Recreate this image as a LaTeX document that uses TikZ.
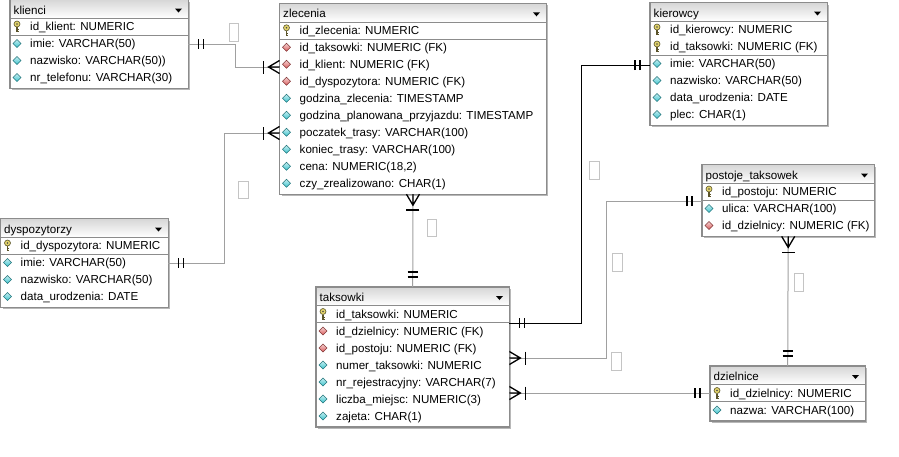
\documentclass[tikz,border=0pt]{standalone}
\usepackage{fontspec}
\setmainfont{Liberation Sans}
\usepackage{tikz}

\definecolor{tblline}{HTML}{8C8C8C}
\definecolor{tblshadow}{HTML}{B8B8B8}
\definecolor{hdrtop}{HTML}{D6D6D6}
\definecolor{relline}{HTML}{A0A0A0}
\definecolor{labline}{HTML}{C4C4C4}
\definecolor{colcyan}{HTML}{3CC4CE}
\definecolor{colred}{HTML}{DA5E5E}
\definecolor{keyyel}{HTML}{E2D36A}

\tikzset{
  tbl/.style={fill=white, inner sep=0pt, anchor=north west},
  rowtxt/.style={anchor=base west, inner sep=0pt, font=\fontsize{11.6}{13}\selectfont},
  rel/.style={draw=relline, line width=1pt},
  sym/.style={draw=black, line width=1.6pt},
  lab/.style={draw=labline, line width=0.9pt, minimum width=9.5pt, minimum height=17.5pt, inner sep=0pt},
  pics/one/.style={code={\draw[sym] (10,-5) -- (10,5) (15,-5) -- (15,5);}},
  pics/many/.style={code={
    \draw[black, line width=1.3pt] (0,-6.5) -- (11,0) -- (0,6.5) (0,0) -- (11,0);
    \draw[sym] (16,-6.5) -- (16,6.5);}},
  pics/key/.style={code={
    \draw[black!60!keyyel, line width=1.4pt] (0,0.5) -- (0,5.5);
    \draw[black!60!keyyel, line width=0.8pt] (0,3) -- (1.8,3) (0,5) -- (1.8,5);
    \filldraw[fill=keyyel, draw=black!60!keyyel, line width=0.6pt] (0,-2.5) circle (3);
    \fill[black!70] (0,-2.5) circle (0.9);}},
  pics/col/.style={code={
    \shadedraw[draw=colcyan!60!black, top color=colcyan!30, bottom color=colcyan, line width=0.5pt]
      (0,-4) -- (4,0) -- (0,4) -- (-4,0) -- cycle;}},
  pics/fkey/.style={code={
    \shadedraw[draw=colred!60!black, top color=colred!30, bottom color=colred, line width=0.5pt]
      (0,-4) -- (4,0) -- (0,4) -- (-4,0) -- cycle;}},
}

% name, left, top, width, rows, key rows, title, rows
\newcommand{\dbtable}[8]{%
  \pgfmathsetmacro\tblh{18.5+17*#5+2}
  \fill[tblshadow] (#2+2,#3+2) rectangle ++(#4,\tblh);
  \node[tbl, minimum width=#4, minimum height=\tblh] (#1) at (#2,#3) {};
  \shade[top color=hdrtop, bottom color=white] (#2,#3) rectangle ++(#4,18.5);
  \draw[tblline] (#2,#3+18.5) -- ++(#4,0);
  \draw[tblline] (#2,#3+18.5+17*#6) -- ++(#4,0);
  \node[rowtxt] (#1-title) at (#2+3.5,#3+14.5) {#7};
  \fill (#2+#4-13,#3+9) -- ++(7,0) -- ++(-3.5,4) -- cycle;
  \foreach \ty/\tx [count=\i] in {#8} {
    \pic at (#2+7,#3+18.5+17*\i-8.5) {\ty};
    \node[rowtxt] (#1-\i) at (#2+20,#3+18.5+17*\i-4.5) {\tx};
  }
  \draw[tblline, line width=1.2pt] (#1.north west) rectangle (#1.south east);
}

\begin{document}
\begin{tikzpicture}[x=1pt, y=-1pt]
  \useasboundingbox (0,0) rectangle (899,456);

  \dbtable{klienci}{10}{-0.5}{178}{4}{1}{klienci}{key/{id\_klient: NUMERIC}, col/{imie: VARCHAR(50)}, col/{nazwisko: VARCHAR(50))}, col/{nr\_telefonu: VARCHAR(30)}}
  \dbtable{zlecenia}{279.5}{3.3}{266.5}{10}{1}{zlecenia}{key/{id\_zlecenia: NUMERIC}, fkey/{id\_taksowki: NUMERIC (FK)}, fkey/{id\_klient: NUMERIC (FK)}, fkey/{id\_dyspozytora: NUMERIC (FK)}, col/{godzina\_zlecenia: TIMESTAMP}, col/{godzina\_planowana\_przyjazdu: TIMESTAMP}, col/{poczatek\_trasy: VARCHAR(100)}, col/{koniec\_trasy: VARCHAR(100)}, col/{cena: NUMERIC(18,2)}, col/{czy\_zrealizowano: CHAR(1)}}
  \dbtable{kierowcy}{650}{2.5}{177}{6}{2}{kierowcy}{key/{id\_kierowcy: NUMERIC}, key/{id\_taksowki: NUMERIC (FK)}, col/{imie: VARCHAR(50)}, col/{nazwisko: VARCHAR(50)}, col/{data\_urodzenia: DATE}, col/{plec: CHAR(1)}}
  \dbtable{postoje}{702}{164.5}{172}{3}{1}{postoje\_taksowek}{key/{id\_postoju: NUMERIC}, col/{ulica: VARCHAR(100)}, fkey/{id\_dzielnicy: NUMERIC (FK)}}
  \dbtable{dyspozytorzy}{0.5}{218.5}{167.5}{4}{1}{dyspozytorzy}{key/{id\_dyspozytora: NUMERIC}, col/{imie: VARCHAR(50)}, col/{nazwisko: VARCHAR(50)}, col/{data\_urodzenia: DATE}}
  \dbtable{taksowki}{316}{287}{193}{7}{1}{taksowki}{key/{id\_taksowki: NUMERIC}, fkey/{id\_dzielnicy: NUMERIC (FK)}, fkey/{id\_postoju: NUMERIC (FK)}, col/{numer\_taksowki: NUMERIC}, col/{nr\_rejestracyjny: VARCHAR(7)}, col/{liczba\_miejsc: NUMERIC(3)}, col/{zajeta: CHAR(1)}}
  \dbtable{dzielnice}{710}{366}{155}{2}{1}{dzielnice}{key/{id\_dzielnicy: NUMERIC}, col/{nazwa: VARCHAR(100)}}

  \draw[rel] (klienci.east |- 0,44) -- ++(47,0) |- (zlecenia.west |- 0,67);
  \draw[rel] (dyspozytorzy.east |- 0,263) -- ++(56,0) |- (zlecenia.west |- 0,133);
  \draw[rel] (zlecenia.south) -- (taksowki.north);
  \draw[rel, draw=black] (taksowki.east |- 0,323) -- ++(72,0) |- (kierowcy.west |- 0,65);
  \draw[rel] (taksowki.east |- 0,358) -- ++(97,0) |- (postoje.west |- 0,201);
  \draw[rel] (taksowki.east |- 0,393) -- (dzielnice.west |- 0,393);
  \draw[rel] (postoje.south) -- (dzielnice.north);

  \pic at (klienci.east |- 0,44) {one};
  \pic[rotate=180] at (zlecenia.west |- 0,67) {many};
  \pic at (dyspozytorzy.east |- 0,263) {one};
  \pic[rotate=180] at (zlecenia.west |- 0,133) {many};
  \pic[rotate=-90] at (zlecenia.south) {many};
  \pic[rotate=90] at (taksowki.north) {one};
  \pic at (taksowki.east |- 0,323) {one};
  \pic[rotate=180] at (kierowcy.west |- 0,65) {one};
  \pic at (taksowki.east |- 0,358) {many};
  \pic[rotate=180] at (postoje.west |- 0,201) {one};
  \pic at (taksowki.east |- 0,393) {many};
  \pic[rotate=180] at (dzielnice.west |- 0,393) {one};
  \pic[rotate=-90] at (postoje.south) {many};
  \pic[rotate=90] at (dzielnice.north) {one};

  \node[lab] (lab1) at (234,32.5) {};
  \node[lab] (lab2) at (243.5,190) {};
  \node[lab] (lab3) at (432,228) {};
  \node[lab] (lab4) at (594.5,170.5) {};
  \node[lab] (lab5) at (617.5,262.5) {};
  \node[lab] (lab6) at (616.5,361.5) {};
  \node[lab] (lab7) at (799,282.5) {};
\end{tikzpicture}
\end{document}
